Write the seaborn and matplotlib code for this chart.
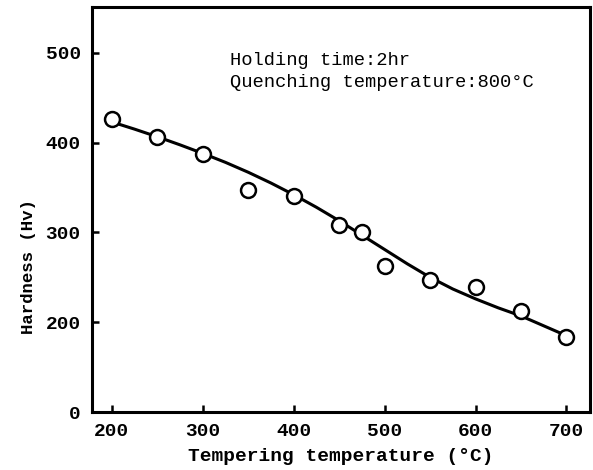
import matplotlib
matplotlib.use("Agg")
import matplotlib.pyplot as plt
import seaborn as sns
import pandas as pd

# measured points
temp_points = [200, 250, 300, 350, 400, 450, 475, 500, 550, 600, 650, 700]
hardness_points = [426, 406, 387, 347, 341, 308, 300, 263, 247, 239, 212, 184]

# fitted curve
temp_curve = [200, 225, 250, 275, 300, 325, 350, 375, 400, 425, 450, 475,
              500, 525, 550, 575, 600, 625, 650, 675, 700]
hardness_curve = [423, 415, 406.5, 397.5, 388, 378, 367, 355, 342, 328, 313, 297,
                  281, 265, 250, 237, 226, 216, 207, 196, 185]

xticks = [200, 300, 400, 500, 600, 700]
yticks = [100, 200, 300, 400, 500]
ytick_labels = ["0", "200", "300", "400", "500"]

note_lines = ["Holding time:2hr", "Quenching temperature:800°C"]

sns.set_theme(style="ticks")
plt.rcParams["font.family"] = ["Liberation Mono", "DejaVu Sans"]

fig = plt.figure(figsize=(5.93, 4.70), dpi=100)
ax = fig.add_axes([0.155, 0.1234, 0.84, 0.8616])

df_c = pd.DataFrame({"t": temp_curve, "h": hardness_curve})
df_p = pd.DataFrame({"t": temp_points, "h": hardness_points})

sns.lineplot(data=df_c, x="t", y="h", ax=ax, color="black", linewidth=2.2, zorder=2)
sns.scatterplot(data=df_p, x="t", y="h", ax=ax, s=115, facecolor="white",
                edgecolor="black", linewidth=1.8, zorder=3)

ax.set_xlim(178, 726)
ax.set_ylim(100, 551)
ax.set_xticks(xticks)
ax.set_xticklabels([str(v) for v in xticks])
ax.set_yticks(yticks)
ax.set_yticklabels(ytick_labels)

for s in ax.spines.values():
    s.set_linewidth(2.2)
    s.set_color("black")

ax.tick_params(axis="both", direction="in", length=5, width=1.8, color="black",
               labelsize=14, labelcolor="black")
ax.tick_params(axis="x", pad=8)
ax.tick_params(axis="y", pad=8)
for lab in ax.get_xticklabels() + ax.get_yticklabels():
    lab.set_fontweight("bold")

ax.set_xlabel("Tempering temperature (°C)", fontsize=14, fontweight="bold", color="black")
ax.set_ylabel("Hardness (Hv)", fontsize=12.5, fontweight="bold", color="black")
ax.yaxis.set_label_coords(-0.113, 0.36)
ax.xaxis.set_label_coords(0.5, -0.09)

ax.text(330, 487, note_lines[0], fontsize=13.5, color="black", va="baseline", ha="left")
ax.text(330, 462, note_lines[1], fontsize=13.5, color="black", va="baseline", ha="left")

fig.savefig("out.png", dpi=100, facecolor="white")
